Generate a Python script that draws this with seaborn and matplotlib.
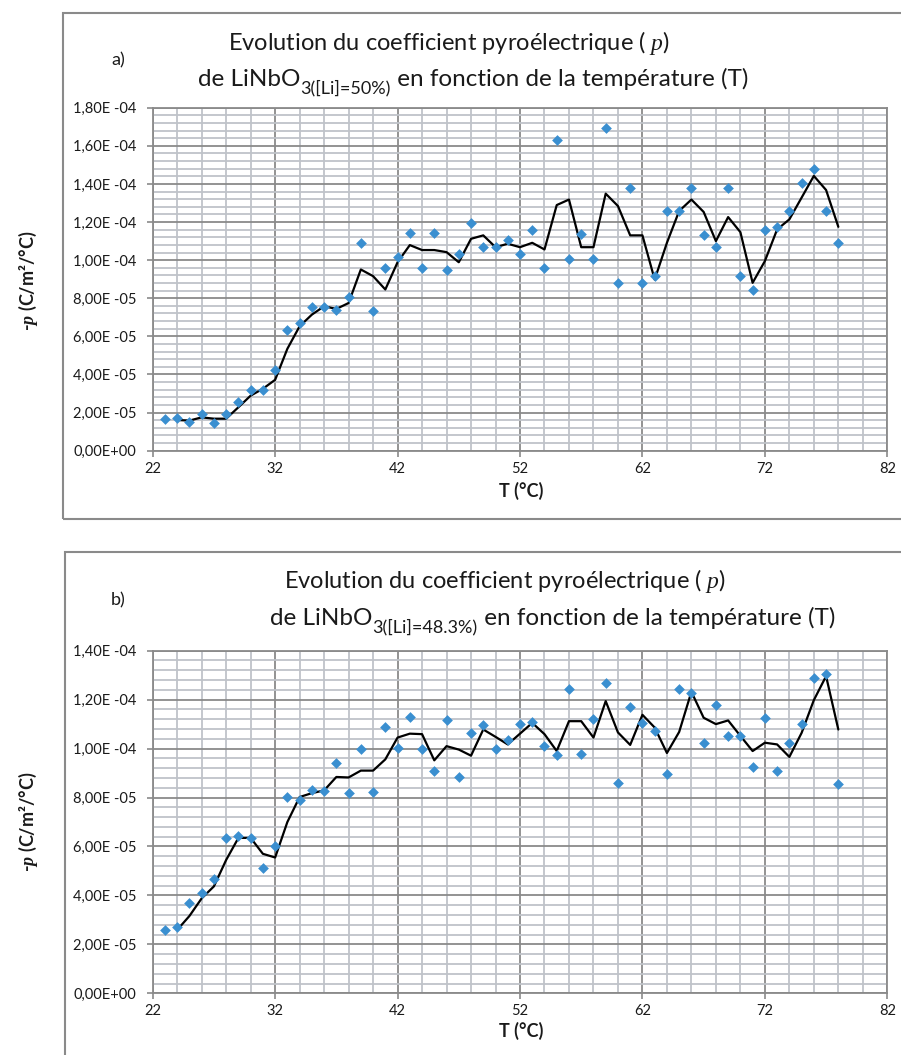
import matplotlib.pyplot as plt
import matplotlib.patches as patches
import numpy as np
import pandas as pd
import seaborn as sns

# temperatures (°C) of the measured points
T_pts = [23, 24, 25, 26, 27, 28, 29, 30, 31, 32, 33, 34, 35, 36, 37, 38, 39, 40,
         41, 42, 43, 44, 45, 46, 47, 48, 49, 50, 51, 52, 53, 54, 55, 56, 57, 58,
         59, 60, 61, 62, 63, 64, 65, 66, 67, 68, 69, 70, 71, 72, 73, 74, 75, 76,
         77, 78]
# temperatures of the trend line (moving average, starts one step later)
T_line = T_pts[1:]

# a) [Li]=50%  -- values in 1E-5 C/m²/°C
p_a = [1.67, 1.70, 1.51, 1.95, 1.44, 1.95, 2.58, 3.19, 3.18, 4.21,
       6.33, 6.70, 7.56, 7.56, 7.39, 8.07, 10.91, 7.32, 9.58, 10.19,
       11.42, 9.60, 11.42, 9.46, 10.33, 11.93, 10.68, 10.70, 11.08, 10.33,
       11.56, 9.58, 16.30, 10.04, 11.35, 10.04, 16.93, 8.81, 13.81, 8.81,
       9.19, 12.60, 12.60, 13.81, 11.33, 10.70, 13.81, 9.19, 8.44, 11.56,
       11.74, 12.60, 14.04, 14.77, 12.60, 10.91]
p_a_line = [1.61, 1.58, 1.75, 1.68, 1.68, 2.28, 2.89, 3.25, 3.72,
            5.35, 6.53, 7.14, 7.58, 7.44, 7.75, 9.51, 9.16, 8.46, 9.89,
            10.79, 10.53, 10.53, 10.42, 9.89, 11.12, 11.30, 10.68, 10.86, 10.68,
            10.91, 10.56, 12.89, 13.18, 10.68, 10.68, 13.49, 12.84, 11.30, 11.30,
            8.98, 10.91, 12.58, 13.18, 12.53, 11.00, 12.26, 11.47, 8.81, 9.95,
            11.61, 12.14, 13.28, 14.42, 13.68, 11.75]

# b) [Li]=48.3%
p_b = [2.60, 2.70, 3.68, 4.10, 4.66, 6.33, 6.44, 6.33, 5.14, 6.01,
       8.02, 7.91, 8.32, 8.27, 9.43, 8.18, 10.00, 8.24, 10.89, 10.04,
       11.28, 9.99, 9.09, 11.15, 8.84, 10.64, 10.96, 9.99, 10.34, 11.02,
       11.10, 10.12, 9.75, 12.43, 9.77, 11.20, 12.70, 8.61, 11.71, 11.05,
       10.70, 8.98, 12.43, 12.27, 10.23, 11.77, 10.52, 10.53, 9.26, 11.26,
       9.07, 10.21, 11.00, 12.89, 13.06, 8.57]
p_b_line = [2.59, 3.16, 3.88, 4.37, 5.45, 6.35, 6.35, 5.70, 5.55,
            7.00, 8.02, 8.18, 8.29, 8.84, 8.82, 9.10, 9.10, 9.56, 10.45,
            10.61, 10.59, 9.52, 10.10, 9.96, 9.71, 10.78, 10.48, 10.17, 10.61,
            11.05, 10.59, 9.90, 11.12, 11.12, 10.45, 11.94, 10.66, 10.15, 11.38,
            10.86, 9.82, 10.68, 12.32, 11.26, 11.00, 11.15, 10.52, 9.90, 10.24,
            10.17, 9.66, 10.64, 11.98, 12.96, 10.78]

x_ticks = [22, 32, 42, 52, 62, 72, 82]
y_ticks_a = [0, 2e-5, 4e-5, 6e-5, 8e-5, 1e-4, 1.2e-4, 1.4e-4, 1.6e-4, 1.8e-4]
y_labels_a = ["0,00E+00", "2,00E -05", "4,00E -05", "6,00E -05", "8,00E -05",
              "1,00E -04", "1,20E -04", "1,40E -04", "1,60E -04", "1,80E -04"]
y_ticks_b = y_ticks_a[:8]
y_labels_b = y_labels_a[:8]

title_1 = "Evolution du coefficient pyroélectrique ( $p$)"
title_2_head = "de LiNbO"
title_2_tail = " en fonction de la température (T)"
sub_a = "3([Li]=50%)"
sub_b = "3([Li]=48.3%)"

sns.set_style("white")
plt.rcParams['font.family'] = ['Lato', 'DejaVu Sans']
plt.rcParams['mathtext.fontset'] = 'custom'
plt.rcParams['mathtext.rm'] = 'Lato'
plt.rcParams['mathtext.it'] = 'Liberation Serif:italic'
plt.rcParams['mathtext.bf'] = 'Lato:bold'
plt.rcParams['mathtext.bfit'] = 'Liberation Serif:italic:bold'

W, H = 901, 1055
MAJOR = '#8a8a8a'
MINOR = '#bfc3c9'
BLUE = '#3a8fd0'
TXT = '#1a1a1a'


def fx(px):
    return px / W


def fy(py):
    return 1 - py / H


def draw_panel(ax, pts, line, y_ticks, y_labels):
    df_pts = pd.DataFrame({"T": T_pts, "p": np.array(pts) * 1e-5})
    df_line = pd.DataFrame({"T": T_line, "p": np.array(line) * 1e-5})
    sns.lineplot(data=df_line, x="T", y="p", ax=ax, color="black", lw=1.6, zorder=3)
    sns.scatterplot(data=df_pts, x="T", y="p", ax=ax, marker="D", s=30,
                    color=BLUE, edgecolor=BLUE, linewidth=0, zorder=4)

    ax.set_xlim(22, 82)
    ax.set_ylim(y_ticks[0], y_ticks[-1])
    ax.set_xticks(x_ticks)
    ax.set_xticks(np.arange(22, 83, 2), minor=True)
    ax.set_yticks(y_ticks)
    ax.set_yticklabels(y_labels)
    ax.set_yticks(np.arange(0, y_ticks[-1] + 1e-7, 4e-6), minor=True)
    ax.grid(which="minor", color=MINOR, lw=1.3, zorder=0)
    ax.grid(which="major", color=MAJOR, lw=1.3, zorder=1)
    ax.set_axisbelow(True)
    for s in ax.spines.values():
        s.set_color(MAJOR)
        s.set_linewidth(1.3)
    ax.tick_params(which="major", direction="out", length=4, width=1.2,
                   color=MAJOR, labelsize=10.5, labelcolor=TXT)
    ax.tick_params(which="minor", length=0)
    ax.tick_params(axis="x", bottom=True, pad=4)
    ax.tick_params(axis="y", left=True, pad=7.5)
    ax.set_xlabel("")
    ax.set_ylabel("")


def title_block(y1, x1, y2, x2, sub, renderer):
    fig.text(fx(x1), fy(y1), title_1, fontsize=17, color=TXT, va="baseline", ha="left")
    kw = dict(fontsize=17.5, color=TXT, va="baseline", ha="left")
    head = fig.text(fx(x2), fy(y2), title_2_head, **kw)
    bb = head.get_window_extent(renderer)
    s = fig.text(bb.x1 / W, fy(y2 + 7), sub, fontsize=13, color=TXT,
                 va="baseline", ha="left")
    bb = s.get_window_extent(renderer)
    fig.text(bb.x1 / W, fy(y2), title_2_tail, **kw)


fig = plt.figure(figsize=(W / 100, H / 100), dpi=100)
renderer = fig.canvas.get_renderer()

# panel frames (cut by the right / bottom edge of the figure)
fig.patches.append(patches.Rectangle((fx(63), fy(519)), fx(900) - fx(63) + 0.05, fy(13) - fy(519),
                                     transform=fig.transFigure, fill=False,
                                     edgecolor=MAJOR, lw=1.5))
fig.patches.append(patches.Rectangle((fx(65), -0.05), fx(900) - fx(65) + 0.05, fy(552) + 0.05,
                                     transform=fig.transFigure, fill=False,
                                     edgecolor=MAJOR, lw=1.5))

ax_a = fig.add_axes([fx(152.7), fy(450.7), fx(887.3) - fx(152.7), fy(107.7) - fy(450.7)])
ax_b = fig.add_axes([fx(152.7), fy(993.3), fx(887.3) - fx(152.7), fy(650.7) - fy(993.3)])

draw_panel(ax_a, p_a, p_a_line, y_ticks_a, y_labels_a)
draw_panel(ax_b, p_b, p_b_line, y_ticks_b, y_labels_b)

title_block(50, 228, 86, 198, sub_a, renderer)
title_block(588, 284, 625, 270, sub_b, renderer)

fig.text(fx(118), fy(60), "a)", fontsize=13, color=TXT, ha="center", va="center")
fig.text(fx(118), fy(600), "b)", fontsize=13, color=TXT, ha="center", va="center")

lab_kw = dict(fontsize=13, fontweight="bold", color=TXT, ha="center", va="center")
fig.text(fx(521), fy(491), "T (°C)", **lab_kw)
fig.text(fx(521), fy(1031), "T (°C)", **lab_kw)
fig.text(fx(28), fy(281), r"-$\mathbfit{p}$ (C/m²/°C)", rotation=90, **lab_kw)
fig.text(fx(28), fy(822), r"-$\mathbfit{p}$ (C/m²/°C)", rotation=90, **lab_kw)

fig.savefig("out.png", dpi=100)
